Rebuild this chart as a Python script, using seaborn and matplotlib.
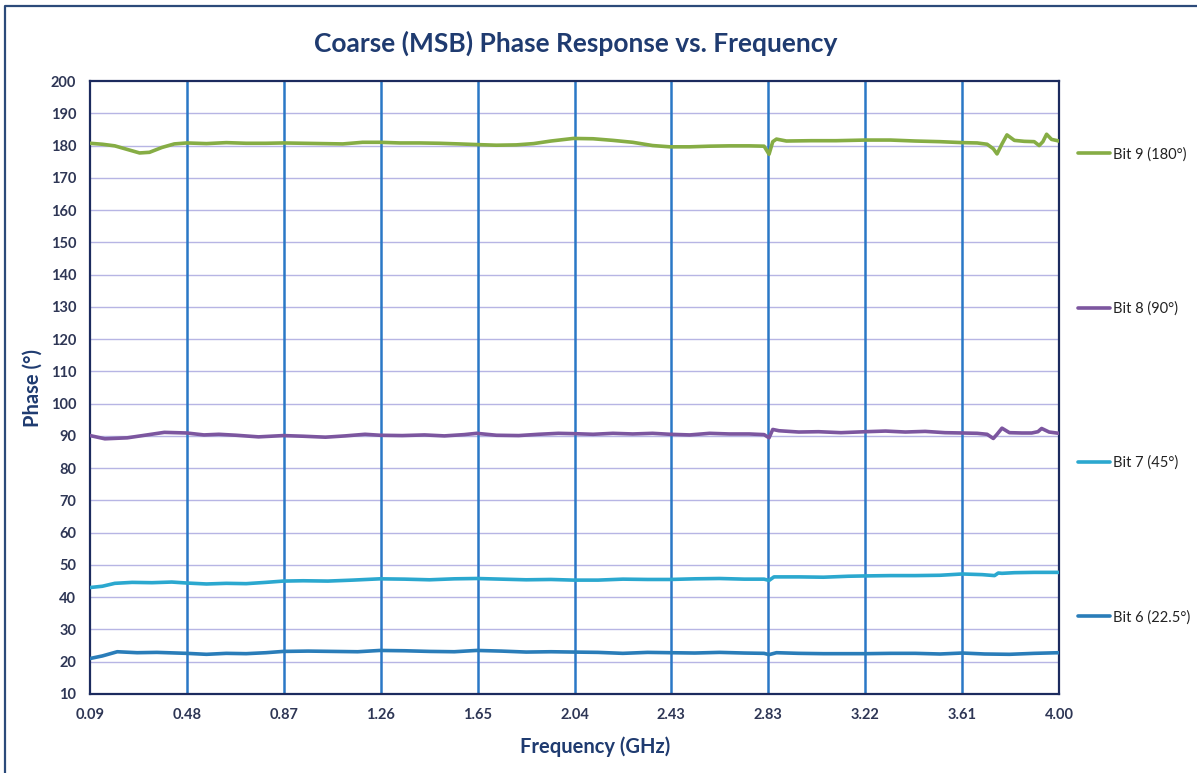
import numpy as np
import pandas as pd
import matplotlib
matplotlib.use("Agg")
import matplotlib.pyplot as plt
from matplotlib.lines import Line2D
import seaborn as sns

# values
series_names = ["Bit 9 (180°)", "Bit 8 (90°)", "Bit 7 (45°)", "Bit 6 (22.5°)"]
series_colors = ["#86ad45", "#7c569f", "#2ba8cf", "#2a7db9"]

bit9_freq = [0.09, 0.14, 0.19, 0.24, 0.29, 0.33, 0.38, 0.43, 0.48, 0.56, 0.64, 0.72, 0.80, 0.87,
             0.95, 1.03, 1.11, 1.19, 1.26, 1.34, 1.42, 1.50, 1.58, 1.65, 1.73, 1.81, 1.88, 1.95,
             2.04, 2.12, 2.20, 2.28, 2.36, 2.43, 2.51, 2.59, 2.67, 2.75, 2.81, 2.83, 2.845, 2.86,
             2.90, 3.00, 3.10, 3.22, 3.32, 3.42, 3.52, 3.61, 3.67, 3.71, 3.735, 3.75, 3.77, 3.79,
             3.82, 3.86, 3.90, 3.92, 3.935, 3.95, 3.97, 4.00]
bit9_phase = [180.7, 180.4, 179.9, 178.8, 177.7, 177.9, 179.4, 180.5, 180.8, 180.6, 180.9, 180.7, 180.7, 180.8,
              180.7, 180.6, 180.5, 181.0, 181.0, 180.8, 180.8, 180.7, 180.5, 180.3, 180.1, 180.2, 180.6, 181.4,
              182.2, 182.1, 181.6, 181.0, 180.0, 179.6, 179.6, 179.8, 179.9, 179.9, 179.8, 177.3, 181.2, 182.0,
              181.4, 181.5, 181.5, 181.7, 181.7, 181.4, 181.2, 180.9, 180.8, 180.4, 179.0, 177.4, 180.5, 183.3,
              181.6, 181.3, 181.2, 180.0, 181.2, 183.5, 181.9, 181.4]

bit8_freq = [0.09, 0.15, 0.24, 0.32, 0.39, 0.48, 0.55, 0.61, 0.68, 0.77, 0.87, 0.95, 1.04, 1.12,
             1.20, 1.26, 1.35, 1.44, 1.52, 1.60, 1.65, 1.73, 1.82, 1.90, 1.98, 2.04, 2.12, 2.20,
             2.28, 2.36, 2.43, 2.51, 2.59, 2.67, 2.75, 2.81, 2.83, 2.845, 2.87, 2.95, 3.03, 3.12,
             3.22, 3.30, 3.38, 3.46, 3.54, 3.61, 3.67, 3.71, 3.735, 3.75, 3.77, 3.80, 3.85, 3.89,
             3.915, 3.93, 3.96, 4.00]
bit8_phase = [90.1, 89.1, 89.4, 90.3, 91.1, 90.9, 90.3, 90.5, 90.2, 89.7, 90.1, 89.9, 89.6, 90.0,
              90.5, 90.2, 90.1, 90.3, 90.0, 90.4, 90.8, 90.2, 90.1, 90.5, 90.8, 90.7, 90.5, 90.8,
              90.6, 90.8, 90.5, 90.3, 90.8, 90.6, 90.6, 90.4, 89.4, 92.0, 91.6, 91.2, 91.3, 91.0,
              91.3, 91.5, 91.2, 91.4, 91.0, 90.9, 90.8, 90.5, 89.2, 90.5, 92.4, 91.0, 90.9, 90.9,
              91.3, 92.3, 91.2, 90.8]

bit7_freq = [0.09, 0.14, 0.19, 0.26, 0.34, 0.42, 0.48, 0.56, 0.64, 0.72, 0.80, 0.87, 0.95, 1.05,
             1.15, 1.26, 1.36, 1.46, 1.56, 1.65, 1.75, 1.85, 1.95, 2.04, 2.14, 2.24, 2.34, 2.43,
             2.53, 2.63, 2.73, 2.81, 2.83, 2.85, 2.95, 3.05, 3.15, 3.22, 3.32, 3.42, 3.52, 3.61,
             3.69, 3.74, 3.755, 3.77, 3.82, 3.90, 4.00]
bit7_phase = [43.0, 43.4, 44.3, 44.6, 44.5, 44.7, 44.4, 44.1, 44.3, 44.2, 44.6, 45.0, 45.1, 45.0,
              45.3, 45.7, 45.6, 45.4, 45.7, 45.8, 45.6, 45.4, 45.5, 45.3, 45.3, 45.6, 45.5, 45.5,
              45.7, 45.8, 45.6, 45.6, 45.2, 46.3, 46.3, 46.2, 46.5, 46.6, 46.7, 46.7, 46.8, 47.2,
              47.0, 46.7, 47.5, 47.4, 47.6, 47.7, 47.7]

bit6_freq = [0.09, 0.14, 0.20, 0.28, 0.36, 0.44, 0.48, 0.56, 0.64, 0.72, 0.80, 0.87, 0.97, 1.07,
             1.17, 1.26, 1.36, 1.46, 1.56, 1.65, 1.75, 1.85, 1.95, 2.04, 2.14, 2.24, 2.34, 2.43,
             2.53, 2.63, 2.73, 2.81, 2.83, 2.86, 2.95, 3.05, 3.15, 3.22, 3.32, 3.42, 3.52, 3.61,
             3.70, 3.80, 3.90, 4.00]
bit6_phase = [21.0, 21.8, 23.1, 22.8, 22.9, 22.7, 22.6, 22.3, 22.6, 22.5, 22.8, 23.2, 23.3, 23.2,
              23.1, 23.5, 23.4, 23.2, 23.1, 23.5, 23.3, 23.0, 23.1, 23.0, 22.9, 22.6, 22.9, 22.8,
              22.7, 22.9, 22.7, 22.6, 22.2, 22.8, 22.6, 22.5, 22.5, 22.5, 22.6, 22.6, 22.4, 22.7,
              22.4, 22.3, 22.6, 22.8]

x_tick_labels = ["0.09", "0.48", "0.87", "1.26", "1.65", "2.04", "2.43", "2.83", "3.22", "3.61", "4.00"]
y_ticks = list(range(10, 201, 10))

# long-form table for seaborn
frames = []
for name, f, p in zip(series_names,
                      [bit9_freq, bit8_freq, bit7_freq, bit6_freq],
                      [bit9_phase, bit8_phase, bit7_phase, bit6_phase]):
    frames.append(pd.DataFrame({"freq": f, "phase": p, "series": name}))
df = pd.concat(frames, ignore_index=True)

sns.set_style("white")
plt.rcParams["font.family"] = ["Lato", "DejaVu Sans"]

navy = "#1f3b70"
tick_col = "#2e3655"

fig = plt.figure(figsize=(11.97, 7.73), dpi=100)
ax = fig.add_axes([0.0752, 0.1022, 0.8095, 0.7930])

# grid: blue vertical, lavender horizontal
x_ticks = np.linspace(0.09, 4.00, len(x_tick_labels))
for yv in y_ticks[1:-1]:
    ax.axhline(yv, color="#b7b5e4", lw=1.0, zorder=0)
for xv in x_ticks[1:-1]:
    ax.axvline(xv, color="#2a78c6", lw=1.8, zorder=0)

sns.lineplot(data=df, x="freq", y="phase", hue="series", hue_order=series_names,
             palette=series_colors, estimator=None, lw=2.6, ax=ax, zorder=3)

ax.set_xlim(0.09, 4.00)
ax.set_ylim(10, 200)
ax.set_xticks(x_ticks)
ax.set_xticklabels(x_tick_labels)
ax.set_yticks(y_ticks)
ax.tick_params(axis="both", length=0, labelsize=10.5, labelcolor=tick_col, pad=10)
for lab in ax.get_xticklabels() + ax.get_yticklabels():
    lab.set_fontweight("bold")

for s in ax.spines.values():
    s.set_color("#1c2b5e")
    s.set_linewidth(1.6)

ax.set_xlabel("Frequency (GHz)", fontsize=14.5, fontweight="bold", color=navy)
ax.set_ylabel("Phase (°)", fontsize=14.5, fontweight="bold", color=navy)
ax.xaxis.set_label_coords(0.521, -0.070)
ax.yaxis.set_label_coords(-0.049, 0.5)
fig.text(0.481, 0.944, "Coarse (MSB) Phase Response vs. Frequency", ha="center", va="center",
         fontsize=19, fontweight="bold", color=navy)

leg = ax.legend(loc="center left", bbox_to_anchor=(1.02, 0.503), frameon=False,
                fontsize=10.5, handlelength=2.2, handletextpad=0.15, labelspacing=9.6,
                borderpad=0, borderaxespad=0)
for line in leg.get_lines():
    line.set_linewidth(2.6)
for t in leg.get_texts():
    t.set_color("#222222")

# outer chart border (top and left edges visible)
fig.add_artist(Line2D([0.0042, 0.0042, 1.0], [0.0, 0.9922, 0.9922], transform=fig.transFigure,
                      color="#2c4a7a", lw=1.6))

fig.savefig("out.png", dpi=100)
